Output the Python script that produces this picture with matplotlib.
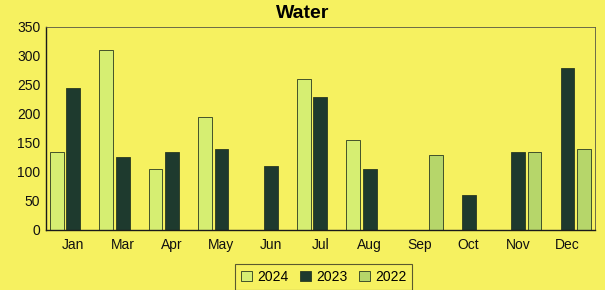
import matplotlib
matplotlib.use("Agg")
from matplotlib import pyplot as plt
import numpy as np

plt.rcParams['font.family'] = ['Liberation Sans', 'DejaVu Sans']

months = ["Jan", "Mar", "Apr", "May", "Jun", "Jul", "Aug", "Sep", "Oct", "Nov", "Dec"]
series_names = ["2024", "2023", "2022"]
water_2024 = [135, 310, 105, 195, 0, 260, 155, 0, 0, 0, 0]
water_2023 = [245, 125, 135, 140, 110, 230, 105, 0, 60, 135, 280]
water_2022 = [0, 0, 0, 0, 0, 0, 0, 130, 0, 135, 140]
y_ticks = [0, 50, 100, 150, 200, 250, 300, 350]

bg = "#f6f160"
colors = ["#d6ee72", "#1e3a2e", "#b6d66a"]

fig = plt.figure(figsize=(6.05, 2.9), dpi=100)
fig.patch.set_facecolor(bg)
ax = fig.add_axes([0.076, 0.207, 0.907, 0.70])
ax.set_facecolor(bg)

x = np.arange(len(months))
w = 0.28
step = 0.333
for i, (vals, name) in enumerate(zip([water_2024, water_2023, water_2022], series_names)):
    ax.bar(x + (i - 1) * step, vals, width=w, color=colors[i],
           edgecolor="#2a3a20", linewidth=0.6, label=name)

ax.set_xlim(-0.55, len(months) - 0.45)
ax.set_ylim(0, 350)
ax.set_yticks(y_ticks)
ax.set_xticks(x)
ax.set_xticklabels(months)
ax.tick_params(axis="both", length=0, labelsize=10, colors="#111111", pad=6)
ax.tick_params(axis="y", pad=4)

for side in ["top", "right"]:
    ax.spines[side].set_color("#555544")
    ax.spines[side].set_linewidth(0.6)
    ax.spines[side].set_linestyle((0, (4, 1)))
for side in ["left", "bottom"]:
    ax.spines[side].set_color("#1a1a1a")
    ax.spines[side].set_linewidth(1.0)

fig.text(0.5, 0.955, "Water", ha="center", va="center", fontsize=14, fontweight="bold")

leg = fig.legend(loc="center", bbox_to_anchor=(0.535, 0.045), ncol=3, fontsize=10,
                 frameon=True, fancybox=False, handlelength=0.8, handleheight=0.8,
                 handletextpad=0.4, columnspacing=0.8, borderpad=0.4)
leg.get_frame().set_facecolor(bg)
leg.get_frame().set_edgecolor("#333322")
leg.get_frame().set_linewidth(0.8)

fig.savefig("out.png", dpi=100, facecolor=bg)
